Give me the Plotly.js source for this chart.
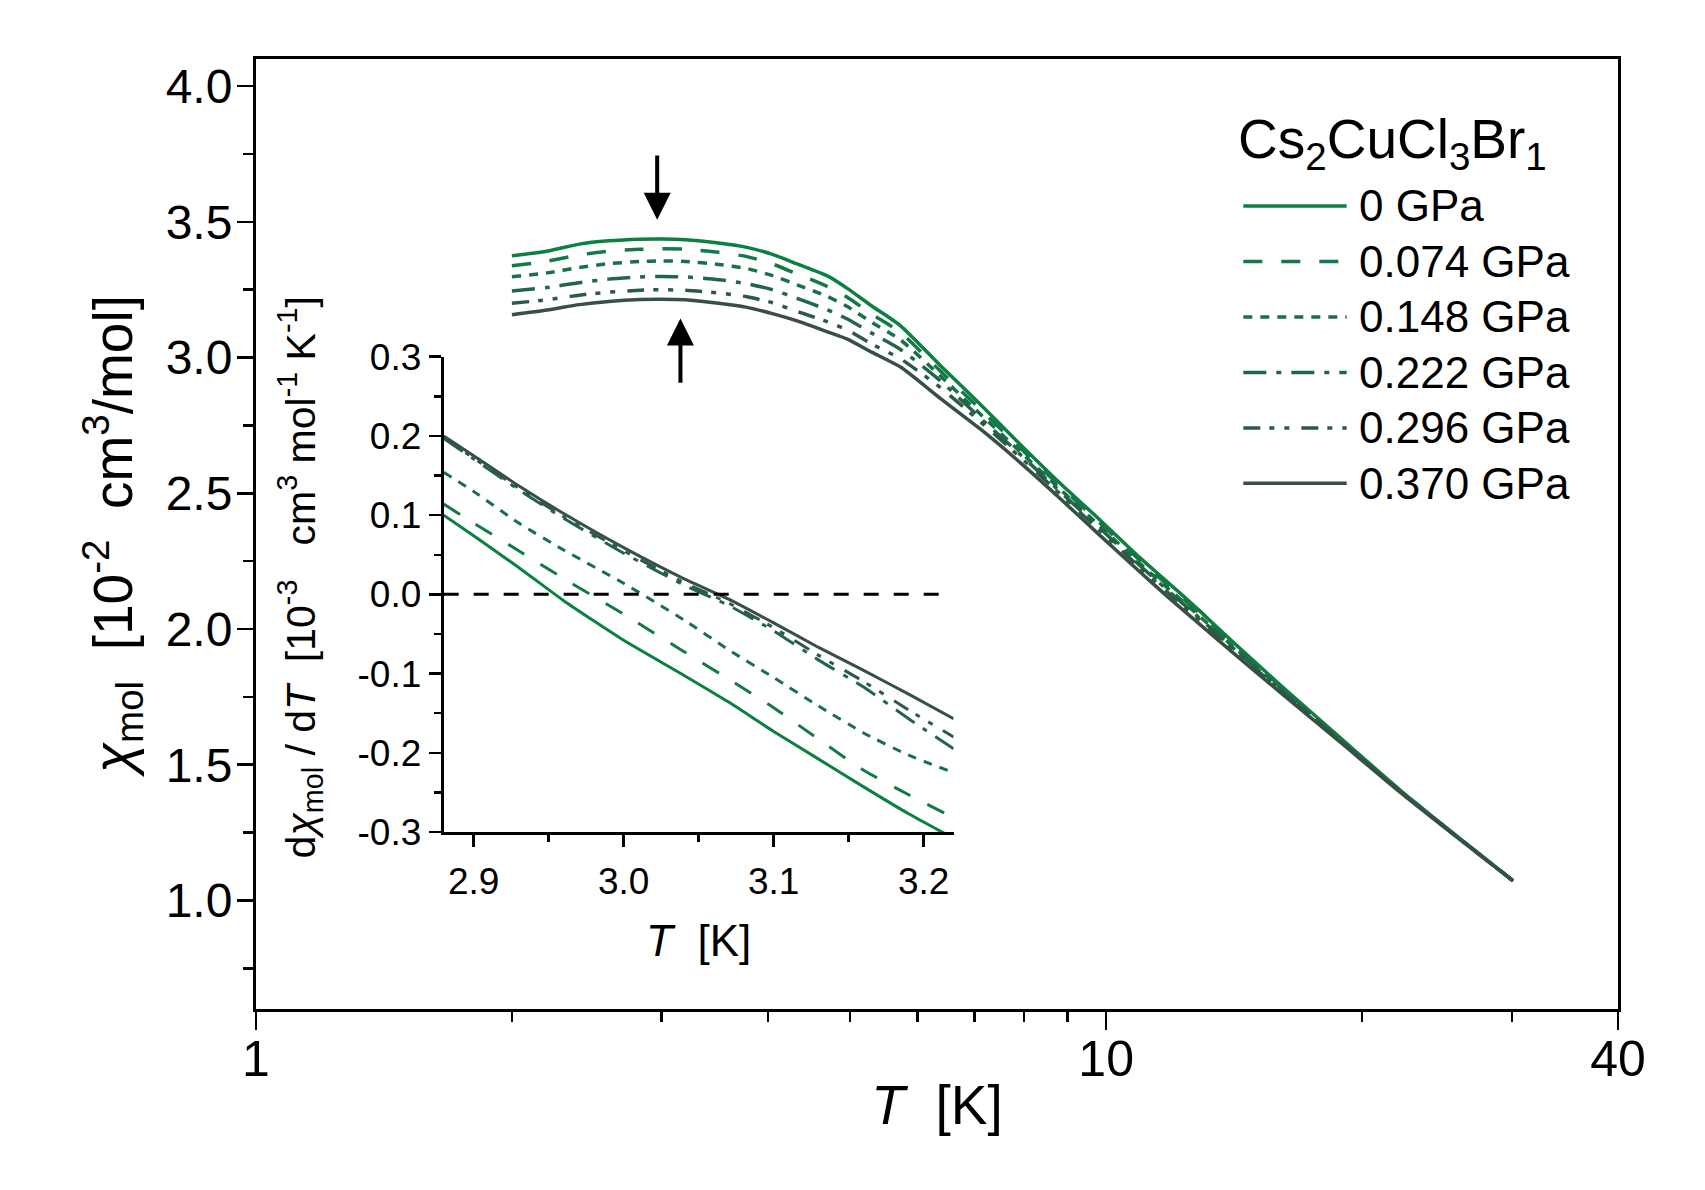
<!DOCTYPE html>
<html>
<head>
<meta charset="utf-8">
<script src="https://cdn.plot.ly/plotly-3.0.1.min.js"></script>
<style>
  html, body { margin: 0; padding: 0; background: #ffffff; }
  #chart { width: 1705px; height: 1190px; }
</style>
</head>
<body>
<div id="chart"></div>
<script>
// ---- Molar susceptibility chi_mol (10^-2 cm^3/mol) vs temperature (K) ----
const temperatureK = [2.0, 2.2, 2.4, 2.6, 2.83, 3.0, 3.2, 3.5, 3.78, 4.05, 4.33, 4.7, 4.96, 5.3, 5.73,
                      6.38, 7.11, 7.93, 8.84, 9.84, 10.97, 11.79, 12.91, 14.13, 16.05, 18.87, 22.2, 26.12, 30.1];

const chi_0GPa     = [3.375, 3.392, 3.418, 3.430, 3.436, 3.437, 3.434, 3.422, 3.406, 3.380, 3.345, 3.301, 3.255, 3.190, 3.117,
                      2.971, 2.828, 2.679, 2.535, 2.401, 2.261, 2.175, 2.064, 1.949, 1.792, 1.598, 1.405, 1.226, 1.073];
const chi_0074GPa  = [3.338, 3.355, 3.378, 3.392, 3.399, 3.401, 3.399, 3.388, 3.372, 3.345, 3.308, 3.262, 3.222, 3.160, 3.092,
                      2.951, 2.810, 2.666, 2.524, 2.390, 2.251, 2.164, 2.054, 1.941, 1.787, 1.595, 1.403, 1.225, 1.073];
const chi_0148GPa  = [3.298, 3.312, 3.332, 3.346, 3.354, 3.356, 3.354, 3.343, 3.328, 3.302, 3.268, 3.225, 3.188, 3.130, 3.065,
                      2.933, 2.792, 2.652, 2.513, 2.378, 2.240, 2.153, 2.044, 1.933, 1.781, 1.592, 1.402, 1.224, 1.073];
const chi_0222GPa  = [3.245, 3.258, 3.276, 3.289, 3.297, 3.299, 3.297, 3.287, 3.272, 3.250, 3.218, 3.176, 3.142, 3.090, 3.030,
                      2.915, 2.778, 2.642, 2.504, 2.370, 2.232, 2.145, 2.037, 1.928, 1.777, 1.589, 1.401, 1.224, 1.072];
const chi_0296GPa  = [3.200, 3.213, 3.230, 3.241, 3.248, 3.250, 3.248, 3.238, 3.224, 3.202, 3.170, 3.132, 3.102, 3.050, 2.995,
                      2.890, 2.764, 2.632, 2.496, 2.361, 2.225, 2.137, 2.030, 1.922, 1.773, 1.587, 1.399, 1.223, 1.072];
const chi_0370GPa  = [3.158, 3.175, 3.195, 3.207, 3.214, 3.215, 3.213, 3.200, 3.185, 3.162, 3.135, 3.095, 3.068, 3.020, 2.965,
                      2.850, 2.737, 2.612, 2.479, 2.344, 2.209, 2.121, 2.015, 1.910, 1.765, 1.582, 1.397, 1.222, 1.072];

// ---- Inset: derivative d(chi_mol)/dT (10^-3 cm^3 mol^-1 K^-1) near the maximum ----
const insetTemperatureK = [2.88, 2.90, 2.93, 2.96, 3.00, 3.04, 3.07, 3.10, 3.13, 3.16, 3.19, 3.22];

const dchi_0GPa    = [0.100, 0.074, 0.034, -0.008, -0.058, -0.102, -0.136, -0.173, -0.208, -0.243, -0.277, -0.308];
const dchi_0074GPa = [0.114, 0.090, 0.055, 0.020, -0.025, -0.072, -0.107, -0.143, -0.183, -0.222, -0.253, -0.282];
const dchi_0148GPa = [0.154, 0.130, 0.090, 0.056, 0.014, -0.032, -0.070, -0.105, -0.141, -0.175, -0.203, -0.225];
const dchi_0222GPa = [0.197, 0.171, 0.132, 0.096, 0.052, 0.012, -0.014, -0.046, -0.083, -0.117, -0.157, -0.195];
const dchi_0296GPa = [0.198, 0.172, 0.134, 0.098, 0.055, 0.015, -0.011, -0.042, -0.077, -0.110, -0.146, -0.180];
const dchi_0370GPa = [0.200, 0.175, 0.137, 0.102, 0.059, 0.020, -0.006, -0.036, -0.067, -0.096, -0.126, -0.157];

// ---- Series names and tick labels ----
const compoundName = 'Cs<sub>2</sub>CuCl<sub>3</sub>Br<sub>1</sub>';
const pressureLabels = ['0 GPa', '0.074 GPa', '0.148 GPa', '0.222 GPa', '0.296 GPa', '0.370 GPa'];

const mainXTickVals = [1, 10, 40];
const mainXTickText = ['1', '10', '40'];
const mainXMinorVals = [2, 3, 4, 5, 6, 7, 8, 9, 20, 30];
const mainYTickVals = [1.0, 1.5, 2.0, 2.5, 3.0, 3.5, 4.0];
const mainYTickText = ['1.0', '1.5', '2.0', '2.5', '3.0', '3.5', '4.0'];

const insetXTickVals = [2.9, 3.0, 3.1, 3.2];
const insetXTickText = ['2.9', '3.0', '3.1', '3.2'];
const insetYTickVals = [-0.3, -0.2, -0.1, 0.0, 0.1, 0.2, 0.3];
const insetYTickText = ['-0.3', '-0.2', '-0.1', '0.0', '0.1', '0.2', '0.3'];

// Arrows marking the position of the susceptibility maximum (T in K, chi values)
const arrowT    = [2.964, 3.157];
const arrowTail = [3.750, 2.902];
const arrowTip  = [3.508, 3.144];

// ---- Styling ----
const chiSeries  = [chi_0GPa, chi_0074GPa, chi_0148GPa, chi_0222GPa, chi_0296GPa, chi_0370GPa];
const dchiSeries = [dchi_0GPa, dchi_0074GPa, dchi_0148GPa, dchi_0222GPa, dchi_0296GPa, dchi_0370GPa];
const colors = ['#0b8040', '#147a45', '#1a7046', '#216648', '#2d5a47', '#384f43'];
const dashes = ['solid', '19px,19px', '9px,8px', '23px,10px,5px,10px', '17px,9px,5px,10px,5px,12px', 'solid'];

const FONT = 'Liberation Sans, Arial, Helvetica, sans-serif';

const traces = [];
chiSeries.forEach((ys, i) => {
  traces.push({
    x: temperatureK, y: ys, xaxis: 'x', yaxis: 'y', type: 'scatter', mode: 'lines',
    name: pressureLabels[i], showlegend: false, hoverinfo: 'skip',
    line: { color: colors[i], width: 3.5, dash: dashes[i], shape: 'spline', smoothing: 0.6 }
  });
});
dchiSeries.forEach((ys, i) => {
  traces.push({
    x: insetTemperatureK, y: ys, xaxis: 'x2', yaxis: 'y2', type: 'scatter', mode: 'lines',
    name: pressureLabels[i], showlegend: false, hoverinfo: 'skip',
    line: { color: colors[i], width: 3, dash: dashes[i], shape: 'spline', smoothing: 0.5 }
  });
});

// Legend drawn in paper coordinates so the line samples can be long
const legendX0 = 0.7249, legendX1 = 0.8008, legendTextX = 0.8085;
const legendTop = 0.8453, legendStep = 0.0584;
const shapes = [];
const annotations = [];
pressureLabels.forEach((label, i) => {
  const yy = legendTop - i * legendStep;
  shapes.push({
    type: 'line', xref: 'paper', yref: 'paper', x0: legendX0, x1: legendX1, y0: yy, y1: yy,
    line: { color: colors[i], width: 3.5, dash: dashes[i] }
  });
  annotations.push({
    xref: 'paper', yref: 'paper', x: legendTextX, y: yy, xanchor: 'left', yanchor: 'middle',
    text: label, showarrow: false, font: { family: FONT, size: 44, color: '#000' }
  });
});
annotations.push({
  xref: 'paper', yref: 'paper', x: 0.7195, y: 0.912, xanchor: 'left', yanchor: 'middle',
  text: compoundName, showarrow: false, font: { family: FONT, size: 55, color: '#000' }
});

// Dashed zero line of the inset
shapes.push({
  type: 'line', xref: 'x2 domain', yref: 'y2', x0: 0, x1: 1, y0: 0, y1: 0,
  line: { color: '#000', width: 3, dash: '15px,15px' }
});

// Arrows (log axis: annotation positions are given in log10 units)
arrowT.forEach((t, i) => {
  annotations.push({
    xref: 'x', yref: 'y', axref: 'x', ayref: 'y',
    x: Math.log10(t), y: arrowTip[i], ax: Math.log10(t), ay: arrowTail[i],
    text: '', showarrow: true, arrowhead: 2, arrowsize: 1.35, arrowwidth: 4, arrowcolor: '#000', standoff: 0
  });
});

const layout = {
  width: 1705, height: 1190,
  paper_bgcolor: '#ffffff', plot_bgcolor: 'rgba(0,0,0,0)',
  margin: { l: 256, r: 87, t: 59, b: 181 },
  showlegend: false,
  font: { family: FONT, color: '#000' },
  xaxis: {
    type: 'log', range: [0, Math.log10(40)], domain: [0, 1], anchor: 'y',
    tickmode: 'array', tickvals: mainXTickVals, ticktext: mainXTickText,
    ticks: 'outside', ticklen: 18, tickwidth: 2.5, tickcolor: '#000',
    minor: { tickmode: 'array', tickvals: mainXMinorVals, ticks: 'outside', ticklen: 10, tickwidth: 2.5, tickcolor: '#000' },
    showline: true, linewidth: 3, linecolor: '#000', mirror: true,
    showgrid: false, zeroline: false, ticklabelstandoff: -14,
    tickfont: { family: FONT, size: 50, color: '#000' },
    title: { text: '<i>T</i>  [K]', font: { family: FONT, size: 55, color: '#000' }, standoff: 0 }
  },
  yaxis: {
    range: [0.6, 4.1], domain: [0, 1], anchor: 'x',
    tickmode: 'array', tickvals: mainYTickVals, ticktext: mainYTickText,
    ticks: 'outside', ticklen: 16, tickwidth: 2.5, tickcolor: '#000',
    minor: { dtick: 0.25, tick0: 0, ticks: 'outside', ticklen: 10, tickwidth: 2.5, tickcolor: '#000' },
    showline: true, linewidth: 3, linecolor: '#000', mirror: true,
    showgrid: false, zeroline: false, ticklabelstandoff: -5,
    tickfont: { family: FONT, size: 48, color: '#000' },
    title: { text: '<i>χ</i><sub>mol</sub>  [10<sup>-2</sup>  cm<sup>3</sup>/mol]', font: { family: FONT, size: 55, color: '#000' }, standoff: 16 }
  },
  xaxis2: {
    range: [2.88, 3.22], domain: [0.1378, 0.5122], anchor: 'y2',
    tickmode: 'array', tickvals: insetXTickVals, ticktext: insetXTickText,
    ticks: 'outside', ticklen: 12, tickwidth: 2.5, tickcolor: '#000',
    minor: { dtick: 0.05, tick0: 2.9, ticks: 'outside', ticklen: 7, tickwidth: 2.5, tickcolor: '#000' },
    showline: true, linewidth: 3, linecolor: '#000', mirror: false,
    showgrid: false, zeroline: false, ticklabelstandoff: 3,
    tickfont: { family: FONT, size: 37, color: '#000' },
    title: { text: '<i>T</i>  [K]', font: { family: FONT, size: 44, color: '#000' }, standoff: 24 }
  },
  yaxis2: {
    range: [-0.3, 0.3], domain: [0.1863, 0.6866], anchor: 'x2',
    tickmode: 'array', tickvals: insetYTickVals, ticktext: insetYTickText,
    ticks: 'outside', ticklen: 12, tickwidth: 2.5, tickcolor: '#000',
    minor: { dtick: 0.05, tick0: 0, ticks: 'outside', ticklen: 7, tickwidth: 2.5, tickcolor: '#000' },
    showline: true, linewidth: 3, linecolor: '#000', mirror: false,
    showgrid: false, zeroline: false,
    tickfont: { family: FONT, size: 37, color: '#000' },
    title: { text: '&nbsp;&nbsp;&nbsp;d<i>χ</i><sub>mol</sub> / d<i>T</i>  [10<sup>-3</sup>   cm<sup>3</sup> mol<sup>-1</sup> K<sup>-1</sup>]', font: { family: FONT, size: 41, color: '#000' }, standoff: 30 }
  },
  shapes: shapes,
  annotations: annotations
};

Plotly.newPlot('chart', traces, layout, { staticPlot: true, displayModeBar: false });
</script>
</body>
</html>
